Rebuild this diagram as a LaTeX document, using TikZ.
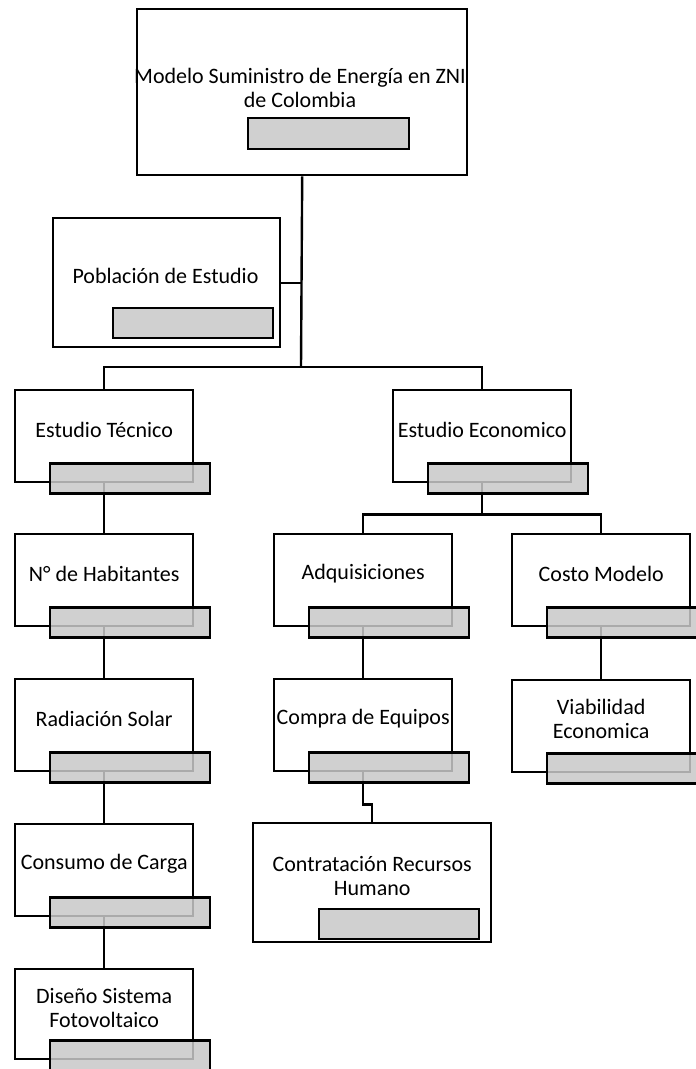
\documentclass[tikz,border=0pt]{standalone}
\usepackage{fontspec}
\setmainfont{Carlito}
\definecolor{barfill}{RGB}{200,200,200}
\tikzset{
  box/.style={draw, line width=2.4pt, anchor=north west, inner sep=0pt,
    minimum width=178pt, minimum height=92pt},
  bar/.style={draw, line width=2.4pt, fill=barfill, fill opacity=0.85,
    anchor=north west, inner sep=0pt, minimum width=160pt, minimum height=30pt},
  lbl/.style={align=center, inner sep=0pt, font=\fontsize{22}{24}\selectfont},
  link/.style={line width=2.4pt}
}
\begin{document}
\begin{tikzpicture}[x=1pt,y=-1pt]
  \clip (0,0) rectangle (696,1069);
  % boxes
  \node[box, minimum width=330pt, minimum height=166pt] (top) at (136,8) {};
  \node[box, minimum width=227pt, minimum height=129pt] (pob) at (52,217) {};
  \node[box] (tec) at (14,389) {};
  \node[box] (hab) at (14,533) {};
  \node[box] (rad) at (14,678) {};
  \node[box] (con) at (14,823) {};
  \node[box, minimum height=90pt] (dis) at (14,968) {};
  \node[box] (eco) at (392,389) {};
  \node[box] (adq) at (273,533) {};
  \node[box] (com) at (273,678) {};
  \node[box, minimum width=238pt, minimum height=119pt] (ctr) at (252,822) {};
  \node[box] (cos) at (511,533) {};
  \node[box] (via) at (511,679) {};
  % connectors
  \coordinate (trunk) at (301,367);
  \draw[link] (top.south) -- (trunk);
  \draw[link] (pob.east) -- (pob.east -| trunk);
  \draw[link] (tec.north) |- (trunk) -| (eco.north);
  \draw[link] (tec.south) -- (hab.north);
  \draw[link] (hab.south) -- (rad.north);
  \draw[link] (rad.south) -- (con.north);
  \draw[link] (con.south) -- (dis.north);
  \draw[link] (eco.south) -- ++(0,31) coordinate (split);
  \draw[link] (adq.north) |- (split) -| (cos.north);
  \draw[link] (adq.south) -- (com.north);
  \draw[link] (com.south) -- ++(0,32) -| (ctr.north);
  \draw[link] (cos.south) -- (via.north);
  % gray bars
  \node[bar, minimum width=161pt, minimum height=31pt] (topbar) at (247,117) {};
  \node[bar] (pobbar) at (112,307) {};
  \node[bar] (tecbar) at ([shift={(35,-21)}]tec.south west) {};
  \node[bar] (habbar) at ([shift={(35,-21)}]hab.south west) {};
  \node[bar] (radbar) at ([shift={(35,-21)}]rad.south west) {};
  \node[bar] (conbar) at ([shift={(35,-21)}]con.south west) {};
  \node[bar] (disbar) at ([shift={(35,-21)}]dis.south west) {};
  \node[bar] (ecobar) at ([shift={(35,-21)}]eco.south west) {};
  \node[bar] (adqbar) at ([shift={(35,-21)}]adq.south west) {};
  \node[bar] (combar) at ([shift={(35,-21)}]com.south west) {};
  \node[bar] (cosbar) at ([shift={(35,-21)}]cos.south west) {};
  \node[bar] (viabar) at ([shift={(35,-21)}]via.south west) {};
  \node[bar] (ctrbar) at (318,908) {};
  % texts
  \node[lbl] (toptxt) at (300,88) {Modelo Suministro de Energía en ZNI\\de Colombia};
  \node[lbl] (pobtxt) at (165.5,276) {Población de Estudio};
  \node[lbl] (tectxt) at ([shift={(0,41)}]tec.north) {Estudio Técnico};
  \node[lbl] (habtxt) at ([shift={(0,41)}]hab.north) {N° de Habitantes};
  \node[lbl] (radtxt) at ([shift={(0,41)}]rad.north) {Radiación Solar};
  \node[lbl] (contxt) at ([shift={(0,41)}]con.north) {Consumo de Carga};
  \node[lbl] (distxt) at ([shift={(0,40)}]dis.north) {Diseño Sistema\\Fotovoltaico};
  \node[lbl] (ecotxt) at ([shift={(0,41)}]eco.north) {Estudio Economico};
  \node[lbl] (adqtxt) at ([shift={(0,41)}]adq.north) {Adquisiciones};
  \node[lbl] (comtxt) at ([shift={(0,41)}]com.north) {Compra de Equipos};
  \node[lbl] (ctrtxt) at ([shift={(0,54)}]ctr.north) {Contratación Recursos\\Humano};
  \node[lbl] (costxt) at ([shift={(0,41)}]cos.north) {Costo Modelo};
  \node[lbl] (viatxt) at ([shift={(0,40)}]via.north) {Viabilidad\\Economica};
\end{tikzpicture}
\end{document}
